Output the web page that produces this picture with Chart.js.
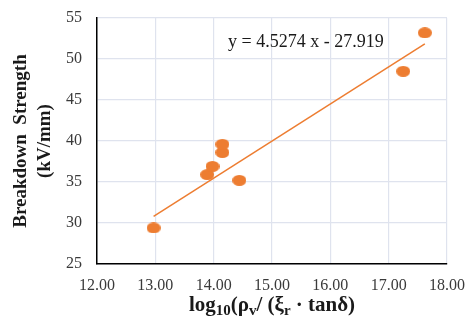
<!DOCTYPE html>
<html>
<head>
<meta charset="utf-8">
<script src="https://cdn.jsdelivr.net/npm/chart.js@4.4.1/dist/chart.umd.min.js"></script>
<style>
  html, body { margin: 0; padding: 0; background: #fff; }
  #wrap { width: 471px; height: 324px; }
</style>
</head>
<body>
<div id="wrap"><canvas id="bdChart" width="471" height="324"></canvas></div>
<script>
const logRatio = [12.97, 13.89, 13.98, 14.15, 14.15, 14.44, 17.25, 17.62];
const strength = [29.4, 35.9, 36.9, 38.6, 39.6, 35.2, 48.5, 53.2];

// linear trendline shown on the plot
const fitSlope = 4.5274;
const fitIntercept = -27.919;
const fitRange = [12.97, 17.62];
const fitLabel = 'y = 4.5274 x - 27.919';

const yTicks = [25, 30, 35, 40, 45, 50, 55];
const xTicks = [12, 13, 14, 15, 16, 17, 18];

const orange = '#ED7D31';
const serif = 'Liberation Serif';
Chart.defaults.font.family = serif;

// slightly wide oval markers like the original
const marker = document.createElement('canvas');
marker.width = 14;
marker.height = 11;
const mctx = marker.getContext('2d');
mctx.fillStyle = orange;
mctx.beginPath();
mctx.ellipse(7, 5.5, 7, 5.5, 0, 0, Math.PI * 2);
mctx.fill();

const points = logRatio.map((x, i) => ({ x: x, y: strength[i] }));
const trend = fitRange.map(x => ({ x: x, y: fitSlope * x + fitIntercept }));

// equation text + x axis title with subscripts
const annotations = {
  id: 'annotations',
  afterDraw(chart) {
    const ctx = chart.ctx;
    const area = chart.chartArea;
    ctx.save();
    ctx.fillStyle = '#1a1a1a';
    ctx.textBaseline = 'alphabetic';
    ctx.font = '18px "' + serif + '"';
    ctx.textAlign = 'left';
    ctx.fillText(fitLabel, 228, 47);

    const big = 'bold 21px "' + serif + '"';
    const small = 'bold 15px "' + serif + '"';
    const parts = [
      ['log', big, 0], ['10', small, 4], ['(\u03C1', big, 0], ['v', small, 4],
      ['/ (\u03BE', big, 0], ['r', small, 4], [' \u00B7 tan\u03B4)', big, 0]
    ];
    let total = 0;
    parts.forEach(p => { ctx.font = p[1]; total += ctx.measureText(p[0]).width; });
    let x = (area.left + area.right) / 2 - total / 2;
    const base = 311;
    parts.forEach(p => {
      ctx.font = p[1];
      ctx.fillText(p[0], x, base + p[2]);
      x += ctx.measureText(p[0]).width;
    });
    ctx.restore();
  }
};

new Chart(document.getElementById('bdChart'), {
  type: 'scatter',
  data: {
    datasets: [{
      label: 'Breakdown strength',
      data: points,
      pointStyle: marker,
      pointRadius: 5,
      order: 1
    }, {
      type: 'line',
      label: 'Linear fit',
      data: trend,
      borderColor: orange,
      borderWidth: 1.5,
      pointRadius: 0,
      fill: false,
      order: 2
    }]
  },
  options: {
    responsive: false,
    animation: false,
    layout: { padding: { top: 18, right: 24, left: 0, bottom: 0 } },
    plugins: {
      legend: { display: false },
      tooltip: { enabled: false }
    },
    scales: {
      x: {
        type: 'linear',
        min: 12,
        max: 18,
        afterBuildTicks: s => { s.ticks = xTicks.map(v => ({ value: v })); },
        afterFit: s => { s.height = 60; s.paddingLeft = 0; s.paddingRight = 0; },
        ticks: {
          color: '#3a3a3a',
          font: { family: serif, size: 16 },
          padding: 12,
          maxRotation: 0,
          callback: v => v.toFixed(2)
        },
        grid: { color: '#dfe3ee', lineWidth: 1.2, drawTicks: false },
        border: { color: '#000', width: 1.5 }
      },
      y: {
        type: 'linear',
        min: 25,
        max: 55,
        afterBuildTicks: s => { s.ticks = yTicks.map(v => ({ value: v })); },
        afterFit: s => { s.width = 97; s.paddingTop = 0; s.paddingBottom = 0; },
        ticks: {
          color: '#3a3a3a',
          font: { family: serif, size: 16 },
          padding: 15
        },
        grid: { color: '#dfe3ee', lineWidth: 1.2, drawTicks: false },
        border: { color: '#000', width: 1.5 },
        title: {
          display: true,
          text: ['Breakdown  Strength', '(kV/mm)'],
          color: '#1a1a1a',
          font: { family: serif, size: 19, weight: 'bold', lineHeight: 1.25 },
          padding: { top: 9, bottom: 0 }
        }
      }
    }
  },
  plugins: [annotations]
});
</script>
</body>
</html>
